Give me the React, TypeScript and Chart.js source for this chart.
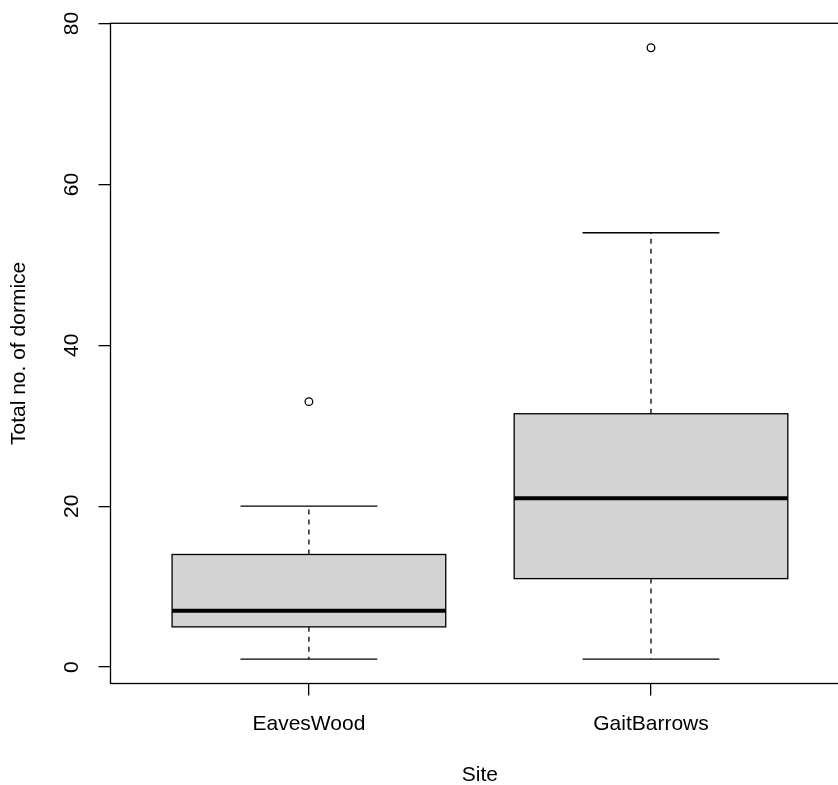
import React, { useEffect, useRef } from 'react';
import { Chart, registerables } from 'chart.js';

Chart.register(...registerables);

// ---- data ----
const sites = ['EavesWood', 'GaitBarrows'];
const whiskerLow = [1, 1];
const quartile1 = [5, 11];
const medians = [7, 21];
const quartile3 = [14, 31.5];
const whiskerHigh = [20, 54];
const outliers = [[33], [77]];
const yTicks = [0, 20, 40, 60, 80];
const xTitle = 'Site';
const yTitle = 'Total no. of dormice';

const FAMILY = "'Liberation Sans', Arial, sans-serif";
const LW = 1.3;

const boxPlugin = {
  id: 'rBoxplot',
  beforeDatasetsDraw(chart: any) {
    const { ctx, chartArea: a } = chart;
    const x = chart.scales.x;
    const y = chart.scales.y;
    ctx.save();
    ctx.strokeStyle = '#000';
    sites.forEach((_, i) => {
      const pos = i + 1;
      const cx = x.getPixelForValue(pos);
      const bl = x.getPixelForValue(pos - 0.4);
      const br = x.getPixelForValue(pos + 0.4);
      const cl = x.getPixelForValue(pos - 0.2);
      const cr = x.getPixelForValue(pos + 0.2);
      const yLo = y.getPixelForValue(whiskerLow[i]);
      const yQ1 = y.getPixelForValue(quartile1[i]);
      const yMed = y.getPixelForValue(medians[i]);
      const yQ3 = y.getPixelForValue(quartile3[i]);
      const yHi = y.getPixelForValue(whiskerHigh[i]);

      // dashed whiskers
      ctx.lineWidth = LW;
      ctx.setLineDash([5, 5]);
      ctx.beginPath();
      ctx.moveTo(cx, yQ3);
      ctx.lineTo(cx, yHi);
      ctx.moveTo(cx, yQ1);
      ctx.lineTo(cx, yLo);
      ctx.stroke();
      ctx.setLineDash([]);
      // staples
      ctx.beginPath();
      ctx.moveTo(cl, yHi);
      ctx.lineTo(cr, yHi);
      ctx.moveTo(cl, yLo);
      ctx.lineTo(cr, yLo);
      ctx.stroke();
      // box
      ctx.fillStyle = '#d3d3d3';
      ctx.fillRect(bl, yQ3, br - bl, yQ1 - yQ3);
      ctx.strokeRect(bl, yQ3, br - bl, yQ1 - yQ3);
      // median
      ctx.lineWidth = 3.9;
      ctx.beginPath();
      ctx.moveTo(bl, yMed);
      ctx.lineTo(br, yMed);
      ctx.stroke();
    });
    // frame
    ctx.lineWidth = LW;
    ctx.strokeRect(a.left, a.top, a.right - a.left, a.bottom - a.top);
    ctx.restore();
  },
};

export default function App() {
  const ref = useRef<HTMLCanvasElement>(null);

  useEffect(() => {
    const canvas = ref.current;
    if (!canvas) return;
    const font = { family: FAMILY, size: 21 };
    const chart = new Chart(canvas, {
      type: 'scatter',
      data: {
        datasets: [
          {
            data: outliers.flatMap((vals, i) => vals.map((v) => ({ x: i + 1, y: v }))),
            pointRadius: 3.8,
            pointBorderWidth: LW,
            pointBorderColor: '#000',
            pointBackgroundColor: 'rgba(0,0,0,0)',
            pointHoverRadius: 3.8,
          },
        ],
      },
      options: {
        responsive: false,
        animation: false,
        events: [],
        layout: { padding: { top: 23.3, right: 900 - 849.4, left: 0, bottom: 0 } },
        plugins: { legend: { display: false }, tooltip: { enabled: false } },
        scales: {
          x: {
            type: 'linear',
            min: 0.42,
            max: 2.58,
            afterBuildTicks: (s: any) => {
              s.ticks = sites.map((_, i) => ({ value: i + 1 }));
            },
            afterFit: (s: any) => {
              s.height = 800 - 683.5;
              s.paddingLeft = 0;
              s.paddingRight = 0;
              s.paddingTop = 0;
              s.paddingBottom = 0;
            },
            border: { display: false },
            grid: { drawOnChartArea: false, drawTicks: true, tickLength: 12, color: '#000', lineWidth: LW },
            ticks: {
              callback: (v: any) => sites[Number(v) - 1] ?? '',
              font,
              color: '#000',
              padding: 16,
              maxRotation: 0,
              autoSkip: false,
            },
            title: { display: true, text: xTitle, font, color: '#000', padding: { top: 0, bottom: 12 } },
          },
          y: {
            type: 'linear',
            min: -2.04,
            max: 80.04,
            afterBuildTicks: (s: any) => {
              s.ticks = yTicks.map((v) => ({ value: v }));
            },
            afterFit: (s: any) => {
              s.width = 110.5;
              s.paddingLeft = 0;
              s.paddingRight = 0;
              s.paddingTop = 0;
              s.paddingBottom = 0;
            },
            border: { display: false },
            grid: { drawOnChartArea: false, drawTicks: true, tickLength: 12, color: '#000', lineWidth: LW },
            ticks: {
              callback: (v: any) => String(v),
              font,
              color: '#000',
              padding: 14.6,
              minRotation: 90,
              maxRotation: 90,
              crossAlign: 'center',
              autoSkip: false,
            },
            title: { display: true, text: yTitle, font, color: '#000', padding: { top: 7.1, bottom: 0 } },
          },
        },
      },
      plugins: [boxPlugin],
    } as any);
    return () => chart.destroy();
  }, []);

  return (
    <div
      style={{
        position: 'fixed',
        left: 0,
        top: 0,
        width: 838,
        height: 785,
        overflow: 'hidden',
        background: '#fff',
      }}
    >
      <canvas ref={ref} width={900} height={800} style={{ display: 'block', width: 900, height: 800 }} />
    </div>
  );
}
